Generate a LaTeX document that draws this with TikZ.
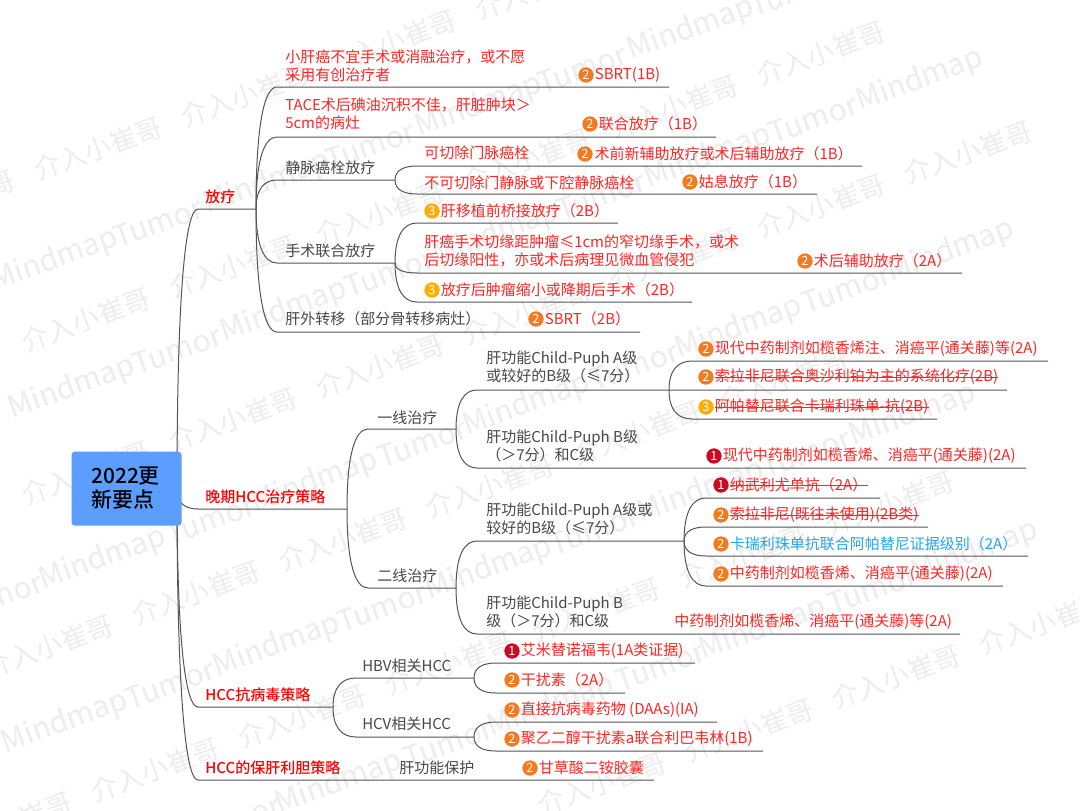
\documentclass[tikz,border=0pt]{standalone}
\usepackage{fontspec}
\setmainfont{Noto Sans CJK SC}
\newfontfamily\medfont{Noto Sans CJK SC Medium}
\usetikzlibrary{calc,positioning}
\definecolor{redtxt}{HTML}{FF2525}
\definecolor{bluetxt}{HTML}{22A7E8}
\definecolor{graytxt}{HTML}{484848}
\definecolor{lncol}{HTML}{555555}
\definecolor{rootblue}{HTML}{5B9EFF}
\definecolor{wmcol}{HTML}{EDEDED}
\tikzset{
  ln/.style={draw=lncol, line width=0.75pt},
  gtext/.style={anchor=west, inner sep=0pt, align=left, text=graytxt, font=\fontsize{11.25}{13.5}\selectfont},
  rtext/.style={gtext, text=redtxt},
  btext/.style={gtext, text=bluetxt},
  mtext/.style={gtext, text=red, font=\fontsize{11.25}{13.5}\medfont},
  strike/.style={draw=redtxt, line width=0.7pt},
  bdg/.style={circle, inner sep=0pt, minimum size=11.5pt, text=white, font=\fontsize{9.5}{10}\selectfont},
  bdg_r/.style={bdg, fill=bdgred},
  bdg_o/.style={bdg, fill=bdgorange},
  bdg_y/.style={bdg, fill=bdgamber},
  rootbox/.style={draw=none, fill=rootblue, rounded corners=2.5pt, minimum width=82.5pt, minimum height=55.5pt},
  wmark/.style={text=wmcol, rotate=20, inner sep=0pt, font=\fontsize{20}{21}\selectfont},
  wmarkl/.style={wmark, font=\fontsize{22.5}{23}\selectfont}
}
\definecolor{bdgred}{HTML}{CC0A23}
\definecolor{bdgorange}{HTML}{F47A20}
\definecolor{bdgamber}{HTML}{FFAE00}
\newcommand{\under}[5]{
  \coordinate (#1-s) at (#3,#5);
  \coordinate (#1-e) at (#4,#5);
  \draw[ln] (#2) .. controls ($(#2)!0.7!(#2 |- #1-s)$) and ($(#1-s)!0.6!(#1-s -| #2)$) .. (#1-s) -- (#1-e);
}
\begin{document}
\begin{tikzpicture}[x=0.75pt,y=-0.75pt]
    \useasboundingbox (0,0) rectangle (1080,810);
    \fill[white] (0,0) rectangle (1080,810);
    \foreach \c/\p/\n in {184/-49/4,351/86/5,504/86/6,664/49/5,826/8/6,1002/602/3}{
      \foreach \k in {0,...,\n}{
        \pgfmathsetmacro\xx{\p+147*\k}
        \node[wmark] (wa\c-\k) at ({\xx},{\c-0.363*\xx}) {介入小崔哥};
      }
    }
    \foreach \c/\p/\n in {280/55/3,414/72/4,596/103/4,746/65/4,906/339/3}{
      \foreach \k in {0,...,\n}{
        \pgfmathsetmacro\xx{\p+212*\k}
        \node[wmarkl] (wb\c-\k) at ({\xx},{\c-0.363*\xx}) {Mindmap};
      }
    }
    \foreach \c/\p/\n in {280/158/3,414/177/3,596/-2/4,746/170/3,906/236/3}{
      \foreach \k in {0,...,\n}{
        \pgfmathsetmacro\xx{\p+212*\k}
        \node[wmarkl] (wc\c-\k) at ({\xx},{\c-0.363*\xx}) {Tumor};
      }
    }
    \coordinate (root) at (177,490);
    \under{fl}{root}{198}{256}{209}
    \under{wq}{root}{198}{347}{509}
    \under{kb}{root}{198}{333}{707}
    \under{bg}{root}{198}{654}{780}

    \under{a1}{fl-e}{277}{669}{87}
    \under{a2}{fl-e}{277}{716}{137}
    \under{a3}{fl-e}{277}{395}{180}
    \under{a4}{fl-e}{277}{395}{263}
    \under{a5}{fl-e}{277}{640}{332}
    \under{a31}{a3-e}{417}{862}{166}
    \under{a32}{a3-e}{417}{817}{194}
    \under{a41}{a4-e}{417}{618}{223}
    \under{a42}{a4-e}{417}{962}{273}
    \under{a43}{a4-e}{417}{692}{302}

    \under{y1}{wq-e}{368}{456}{429}
    \under{y2}{wq-e}{368}{456}{588}
    \under{y11}{y1-e}{477}{669}{390}
    \under{y12}{y1-e}{477}{1026}{468}
    \under{y21}{y2-e}{477}{684}{541}
    \under{y22}{y2-e}{477}{960}{634}
    \under{c1}{y11-e}{692}{1048}{361}
    \under{c2}{y11-e}{692}{1007}{390}
    \under{c3}{y11-e}{692}{937}{419}
    \under{d1}{y21-e}{706}{880}{498}
    \under{d2}{y21-e}{706}{928}{527}
    \under{d3}{y21-e}{706}{1028}{556}
    \under{d4}{y21-e}{706}{1003}{586}

    \under{h1}{kb-e}{356}{474}{678}
    \under{h2}{kb-e}{356}{474}{737}
    \under{h11}{h1-e}{496}{695}{663}
    \under{h12}{h1-e}{496}{625}{693}
    \under{h21}{h2-e}{496}{717}{722}
    \under{h22}{h2-e}{496}{763}{751}

    \node[rootbox] (R) at (126.5,488.7) {};
    \node[anchor=west, inner sep=0pt, align=left, font=\fontsize{15.7}{18.6}\medfont] (Rt) at (91,488) {2022更\\新要点};

    \node[mtext] (M1) at (205,197) {放疗};
    \node[mtext] (M2) at (205,497) {晚期HCC治疗策略};
    \node[mtext] (M3) at (205,695) {HCC抗病毒策略};
    \node[mtext] (M4) at (205,768) {HCC的保肝利胆策略};

    \node[rtext] (T1) at (285,65.5) {小肝癌不宜手术或消融治疗，或不愿\\采用有创治疗者};
    \node[bdg_o] (B1) at (586,75) {2};
    \node[rtext,right=0.5pt of B1] (L1) {SBRT(1B)};
    \node[rtext] (T2) at (285,114) {TACE术后碘油沉积不佳，肝脏肿块＞\\5cm的病灶};
    \node[bdg_o] (B2) at (590,124) {2};
    \node[rtext,right=0.5pt of B2] (L2) {联合放疗（1B）};
    \node[gtext] (T3) at (285,168) {静脉癌栓放疗};
    \node[rtext] (T31) at (424,153) {可切除门脉癌栓};
    \node[bdg_o] (B31) at (585,154) {2};
    \node[rtext,right=1pt of B31] (L31) {术前新辅助放疗或术后辅助放疗（1B）};
    \node[rtext] (T32) at (424,183) {不可切除门静脉或下腔静脉癌栓};
    \node[bdg_o] (B32) at (690,182) {2};
    \node[rtext,right=0.5pt of B32] (L32) {姑息放疗（1B）};
    \node[gtext] (T4) at (285,251) {手术联合放疗};
    \node[bdg_y] (B41) at (432,211) {3};
    \node[rtext,right=0.5pt of B41] (L41) {肝移植前桥接放疗（2B）};
    \node[rtext] (T42) at (424,251) {肝癌手术切缘距肿瘤≤1cm的窄切缘手术，或术\\后切缘阳性，亦或术后病理见微血管侵犯};
    \node[bdg_o] (B42) at (805,261) {2};
    \node[rtext,right=0.5pt of B42] (L42) {术后辅助放疗（2A）};
    \node[bdg_y] (B43) at (432,290) {3};
    \node[rtext,right=0.5pt of B43] (L43) {放疗后肿瘤缩小或降期后手术（2B）};
    \node[gtext] (T5) at (285,319) {肝外转移（部分骨转移病灶）};
    \node[bdg_o] (B5) at (536,319) {2};
    \node[rtext,right=0.5pt of B5] (L5) {SBRT（2B）};

    \node[gtext] (Y1) at (377,418) {一线治疗};
    \node[gtext] (Y2) at (377,576) {二线治疗};
    \node[gtext] (Y11) at (486,367) {肝功能Child-Puph A级\\或较好的B级（≤7分）};
    \node[bdg_o] (B11) at (706,349) {2};
    \node[rtext,right=0.5pt of B11] (C1) {现代中药制剂如榄香烯注、消癌平(通关藤)等(2A)};
    \node[bdg_o] (B12) at (706,377) {2};
    \node[rtext,right=0.5pt of B12] (C2) {索拉非尼联合奥沙利铂为主的系统化疗(2B)};
    \draw[strike] (C2.west) -- (C2.east);
    \node[bdg_y] (B13) at (706,407) {3};
    \node[rtext,right=0.5pt of B13] (C3) {阿帕替尼联合卡瑞利珠单-抗(2B)};
    \draw[strike] (C3.west) -- (C3.east);
    \node[gtext] (Y12) at (486,446) {肝功能Child-Puph B级\\（＞7分）和C级};
    \node[bdg_r] (B14) at (714,456) {1};
    \node[rtext,right=0.5pt of B14] (C4) {现代中药制剂如榄香烯、消癌平(通关藤)(2A)};
    \node[gtext] (Y21) at (486,519) {肝功能Child-Puph A级或\\较好的B级（≤7分）};
    \node[bdg_r] (B21) at (721,485) {1};
    \node[rtext,right=0.5pt of B21] (D1) {纳武利尤单抗（2A）};
    \draw[strike] (D1.west) -- (D1.east);
    \node[bdg_o] (B22) at (721,515) {2};
    \node[rtext,right=0.5pt of B22] (D2) {索拉非尼(既往未使用)(2B类)};
    \draw[strike] (D2.west) -- (D2.east);
    \node[bdg_o] (B23) at (721,544) {2};
    \node[btext,right=0.5pt of B23] (D3) {卡瑞利珠单抗联合阿帕替尼证据级别（2A）};
    \node[bdg_o] (B24) at (721,574) {2};
    \node[rtext,right=0.5pt of B24] (D4) {中药制剂如榄香烯、消癌平(通关藤)(2A)};
    \node[gtext] (Y22) at (486,612) {肝功能Child-Puph B\\级（＞7分）和C级};
    \node[rtext] (D5) at (674,622) {中药制剂如榄香烯、消癌平(通关藤)等(2A)};

    \node[gtext] (H1) at (362,666) {HBV相关HCC};
    \node[gtext] (H2) at (362,724) {HCV相关HCC};
    \node[bdg_r] (B51) at (512,651) {1};
    \node[rtext,right=0.5pt of B51] (E1) {艾米替诺福韦(1A类证据)};
    \node[bdg_o] (B52) at (512,680) {2};
    \node[rtext,right=0.5pt of B52] (E2) {干扰素（2A）};
    \node[bdg_o] (B53) at (512,710) {2};
    \node[rtext,right=0.5pt of B53] (E3) {直接抗病毒药物 (DAAs)(IA)};
    \node[bdg_o] (B54) at (512,739) {2};
    \node[rtext,right=0.5pt of B54] (E4) {聚乙二醇干扰素a联合利巴韦林(1B)};
    \node[gtext] (H3) at (399,768) {肝功能保护};
    \node[bdg_o] (B6) at (530,768) {2};
    \node[rtext,right=0.5pt of B6] (E5) {甘草酸二铵胶囊};
\end{tikzpicture}
\end{document}
